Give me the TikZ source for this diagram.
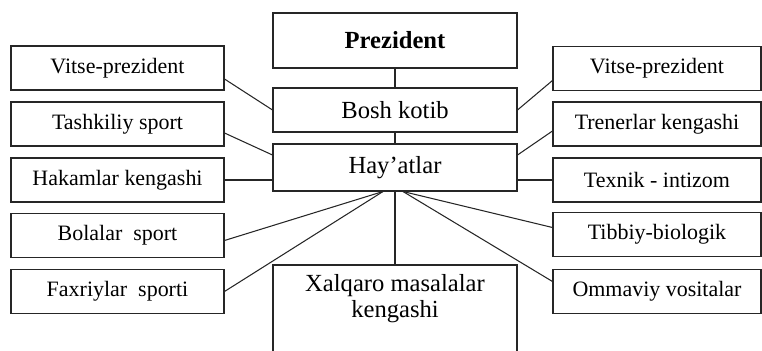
\documentclass[tikz,border=0pt]{standalone}
\usepackage{fontspec}
\setmainfont{Liberation Serif}
\tikzset{
  box/.style={draw=black!85, line width=0.6pt, inner sep=0pt},
  midbox/.style={box, minimum width=4.88cm, font=\fontsize{14}{16}\selectfont},
  leftbox/.style={box, minimum width=4.26cm, minimum height=0.88cm, font=\fontsize{12.5}{15}\selectfont},
  rightbox/.style={box, minimum width=4.16cm, minimum height=0.88cm, font=\fontsize{12.5}{15}\selectfont},
  link/.style={draw=black!85, line width=0.6pt}
}
\begin{document}
\begin{tikzpicture}[x=0.02cm, y=-0.02cm]
\useasboundingbox (0,0) rectangle (762,351);
% central column
\node[midbox, minimum height=1.1cm, font=\fontsize{14}{16}\selectfont\bfseries] (pres) at (395,40.5) {Prezident};
\node[midbox, minimum height=0.88cm] (bosh) at (395,110) {Bosh kotib};
\node[midbox, minimum height=0.94cm] (hay) at (395,167.5) {Hay'atlar};
\node[midbox, minimum height=1.9cm] (xal) at (395,312.5) {};
\node[anchor=north, align=center, inner sep=0pt, font=\fontsize{14}{14.4}\selectfont] (xaltxt) at ([yshift=-0.2cm]xal.north) {Xalqaro masalalar\\kengashi};
% left column
\node[leftbox] (lv) at (117.5,68) {Vitse-prezident};
\node[leftbox] (lt) at (117.5,124) {Tashkiliy sport};
\node[leftbox] (lh) at (117.5,180) {Hakamlar kengashi};
\node[leftbox] (lb) at (117.5,235.5) {Bolalar\ \ sport};
\node[leftbox] (lf) at (117.5,291.5) {Faxriylar\ \ sporti};
% right column
\node[rightbox] (rv) at (657,68.5) {Vitse-prezident};
\node[rightbox] (rt) at (657,124) {Trenerlar kengashi};
\node[rightbox] (rx) at (657,180) {Texnik - intizom};
\node[rightbox] (rb) at (657,234.5) {Tibbiy-biologik};
\node[rightbox] (ro) at (657,291.5) {Ommaviy vositalar};
% links
\coordinate (hl) at ([xshift=-0.24cm]hay.south);
\coordinate (hr) at ([xshift=0.16cm]hay.south);
\draw[link] (pres) -- (bosh);
\draw[link] (bosh) -- (hay);
\draw[link] (hay) -- (xal);
\draw[link] ([yshift=-0.22cm]lv.east) -- (bosh.west);
\draw[link] ([yshift=-0.18cm]lt.east) -- ([yshift=0.25cm]hay.west);
\draw[link] (lh.east) -- (lh.east -| hay.west);
\draw[link] ([yshift=-0.1cm]lb.east) -- (hl);
\draw[link] (lf.east) -- (hl);
\draw[link] ([yshift=-0.24cm]rv.west) -- (bosh.east);
\draw[link] ([yshift=-0.14cm]rt.west) -- ([yshift=0.25cm]hay.east);
\draw[link] (rx.west) -- (rx.west -| hay.east);
\draw[link] (hr) -- ([yshift=0.14cm]rb.west);
\draw[link] (hr) -- ([yshift=0.2cm]ro.west);
\end{tikzpicture}
\end{document}
